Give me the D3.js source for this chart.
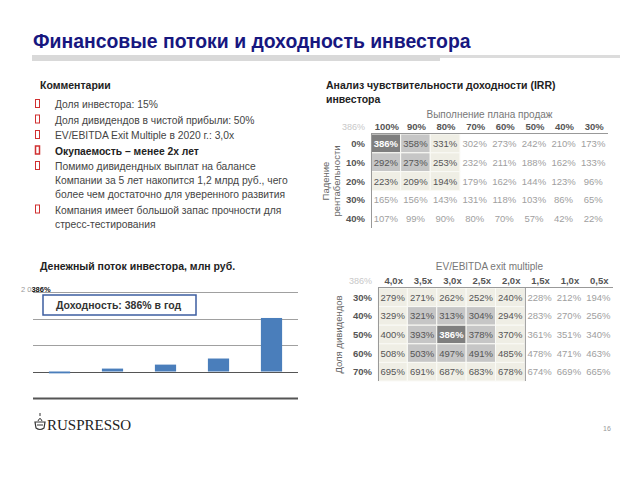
<!DOCTYPE html>
<html><head><meta charset="utf-8">
<script src="https://cdn.jsdelivr.net/npm/d3@7"></script>
<style>
html,body{margin:0;padding:0;background:#fff;}
svg{display:block;font-family:"Liberation Sans",Arial,sans-serif;}
</style></head>
<body>
<svg id="c" width="640" height="480"></svg>
<script>
// ---------- data ----------
const title = "Финансовые потоки и доходность инвестора";
const comments = [
  {lines:["Доля инвестора: 15%"], bold:false},
  {lines:["Доля дивидендов в чистой прибыли: 50%"], bold:false},
  {lines:["EV/EBITDA Exit Multiple в 2020 г.: 3,0x"], bold:false},
  {lines:["Окупаемость – менее 2х лет"], bold:true},
  {lines:["Помимо дивидендных выплат на балансе","Компании за 5 лет накопится 1,2 млрд руб., чего","более чем достаточно для уверенного развития"], bold:false},
  {lines:["Компания имеет большой запас прочности для","стресс-тестирования"], bold:false}
];
const topCols = ["100%","90%","80%","70%","60%","50%","40%","30%"];
const topRows = ["0%","10%","20%","30%","40%"];
const topValues = [
  [386,358,331,302,273,242,210,173],
  [292,273,253,232,211,188,162,133],
  [223,209,194,179,162,144,123,96],
  [165,156,143,131,118,103,86,65],
  [107,99,90,80,70,57,42,22]
];
const botCols = ["4,0x","3,5x","3,0x","2,5x","2,0x","1,5x","1,0x","0,5x"];
const botRows = ["30%","40%","50%","60%","70%"];
const botValues = [
  [279,271,262,252,240,228,212,194],
  [329,321,313,304,294,283,270,256],
  [400,393,386,378,370,361,351,340],
  [508,503,497,491,485,478,471,463],
  [695,691,687,683,678,674,669,665]
];
const periods = ["2016","2017","2018","2019","2020"];
const cashFlow = [-35, 55, 130, 245, 1010];
const cashTicks = [-500, 0, 500, 1000, 1500];
const irrLabel = "Доходность: 386% в год";

// ---------- drawing ----------
const svg = d3.select("#c");

// title
svg.append("text").attr("x",33).attr("y",48).attr("font-size",19.4).attr("font-weight","bold")
  .attr("fill","#17177f").text(title);
svg.append("rect").attr("x",32).attr("y",55).attr("width",408).attr("height",6).attr("fill","#d9d9d9");
svg.append("rect").attr("x",440).attr("y",55).attr("width",180).attr("height",3).attr("fill","#dcdcdc");

// comments
svg.append("text").attr("x",40).attr("y",89).attr("font-size",10.5).attr("font-weight","bold")
  .attr("fill","#222").text("Комментарии");
const lineYs = [[108],[123.5],[139],[154.5],[170,184,198],[213.5,227.5]];
comments.forEach((c,i)=>{
  const y0 = lineYs[i][0];
  svg.append("rect").attr("x",35.5).attr("y",y0-8.5).attr("width",4).attr("height",8)
    .attr("fill","none").attr("stroke","#d03030").attr("stroke-width", c.bold?1.5:1);
  c.lines.forEach((l,j)=>{
    svg.append("text").attr("x",55).attr("y",lineYs[i][j]).attr("font-size",10.3)
      .attr("font-weight",c.bold?"bold":"normal").attr("fill",c.bold?"#222":"#444").text(l);
  });
});

// ---------- sensitivity tables ----------
function drawTable(opt){
  const g = svg.append("g");
  const x = d3.scaleBand().domain(opt.cols).range([opt.x0, opt.x1]);
  const y = d3.scaleBand().domain(opt.rows).range([opt.y0, opt.y1]);
  g.append("text").attr("x",(opt.x0+opt.x1)/2+(opt.titleDx||0)).attr("y",opt.titleY).attr("text-anchor","middle")
    .attr("font-size",10).attr("fill","#777").text(opt.title);
  g.append("text").attr("x",opt.x0-6).attr("y",opt.y0-4).attr("text-anchor","end")
    .attr("font-size",9).attr("fill","#c8c8c8").text("386%");
  g.selectAll(".h").data(opt.cols).join("text")
    .attr("x",d=>x(d)+x.bandwidth()/2+1).attr("y",opt.y0-4).attr("text-anchor","middle")
    .attr("font-size",9.5).attr("font-weight","bold").attr("fill","#555").text(d=>d);
  g.selectAll(".r").data(opt.rows).join("text")
    .attr("x",opt.x0-6).attr("y",d=>y(d)+y.bandwidth()/2+3.5).attr("text-anchor","end")
    .attr("font-size",9.5).attr("font-weight","bold").attr("fill","#555").text(d=>d);
  const cells = [];
  opt.values.forEach((row,i)=>row.forEach((v,j)=>cells.push({i,j,v})));
  g.selectAll(".cell").data(cells.filter(c=>opt.shade(c.i,c.j)>0)).join("rect")
    .attr("x",c=>x(opt.cols[c.j])).attr("y",c=>y(opt.rows[c.i]))
    .attr("width",x.bandwidth()).attr("height",y.bandwidth())
    .attr("fill",c=>["none","#efeee5","#c6c6c6","#7f7f7f"][opt.shade(c.i,c.j)])
    .attr("stroke","#fafaf6").attr("stroke-width",1);
  g.selectAll(".v").data(cells).join("text")
    .attr("x",c=>x(opt.cols[c.j])+x.bandwidth()/2).attr("y",c=>y(opt.rows[c.i])+y.bandwidth()/2+3.5)
    .attr("text-anchor","middle").attr("font-size",9.5)
    .attr("font-weight",c=>opt.shade(c.i,c.j)===3?"bold":"normal")
    .attr("fill",c=>{const s=opt.shade(c.i,c.j);return s===3?"#fff":(s>0?"#555":"#a0a0a0");})
    .text(c=>c.v+"%");
  g.append("line").attr("x1",opt.x0).attr("x2",opt.x1).attr("y1",opt.y0-0.5).attr("y2",opt.y0-0.5)
    .attr("stroke","#999");
  g.append("line").attr("x1",opt.x0+0.5).attr("x2",opt.x0+0.5).attr("y1",opt.y0).attr("y2",opt.y1)
    .attr("stroke","#999");
  if(opt.splitCol!==undefined){
    const xs = x(opt.cols[opt.splitCol])+0.5;
    g.append("line").attr("x1",xs).attr("x2",xs).attr("y1",opt.y0).attr("y2",opt.y1).attr("stroke","#999");
  }
  opt.yLabel.forEach((l,k)=>{
    g.append("text").attr("transform",`translate(${opt.yLabelX + k*11},${(opt.y0+opt.y1)/2}) rotate(-90)`)
      .attr("text-anchor","middle").attr("font-size",9.5).attr("fill","#666").text(l);
  });
}

svg.append("text").attr("x",326).attr("y",89).attr("font-size",10.5).attr("font-weight","bold")
  .attr("fill","#222").text("Анализ чувствительности доходности (IRR)");
svg.append("text").attr("x",326).attr("y",103).attr("font-size",10.5).attr("font-weight","bold")
  .attr("fill","#222").text("инвестора");

drawTable({
  cols: topCols, rows: topRows, values: topValues,
  x0: 371, x1: 608, y0: 134, y1: 228, titleY: 118, titleDx: 0,
  title: "Выполнение плана продаж",
  yLabel: ["Падение","рентабельности"], yLabelX: 329,
  shade: (i,j)=> (i===0&&j===0)?3 : (i<2&&j<2)?2 : (i<3&&j<3)?1 : 0
});
drawTable({
  cols: botCols, rows: botRows, values: botValues,
  x0: 378, x1: 613, y0: 288, y1: 381, titleY: 270, titleDx: -6,
  title: "EV/EBITDA exit multiple",
  yLabel: ["Доля дивидендов"], yLabelX: 342, splitCol: 5,
  shade: (i,j)=> (i===2&&j===2)?3 : (i>=1&&i<=3&&j>=1&&j<=3)?2 : (j<5)?1 : 0
});

// ---------- cash flow chart ----------
svg.append("text").attr("x",40).attr("y",270).attr("font-size",10.5).attr("font-weight","bold")
  .attr("fill","#222").text("Денежный поток инвестора, млн руб.");
const bx = d3.scaleBand().domain(periods).range([33,298]).paddingInner(0.6).paddingOuter(0.3);
const by = d3.scaleLinear().domain([-500,1500]).range([398,292]);
const cg = svg.append("g");
cg.selectAll(".grid").data(cashTicks).join("line")
  .attr("x1",33).attr("x2",298).attr("y1",d=>Math.round(by(d))+0.5).attr("y2",d=>Math.round(by(d))+0.5)
  .attr("stroke",d=>(d===-500||d===0)?"#555":"#a0a0a0")
  .attr("stroke-width",d=>d===-500?2:1);
cg.selectAll(".bar").data(periods).join("rect")
  .attr("x",d=>bx(d)).attr("width",bx.bandwidth())
  .attr("y",(d,i)=>by(Math.max(0,cashFlow[i]))).attr("height",(d,i)=>Math.abs(by(cashFlow[i])-by(0)))
  .attr("fill","#4a7ebb");
// overlapped axis label remnant (one text element)
const rem = cg.append("text").attr("x",21).attr("y",292).attr("font-size",7.5);
rem.append("tspan").attr("fill","#999").text("2 0");
rem.append("tspan").attr("font-weight","bold").attr("fill","#111").text("386%");
// IRR box
cg.append("rect").attr("x",43).attr("y",295).attr("width",153).attr("height",20)
  .attr("fill","#fff").attr("stroke","#3d5da0").attr("stroke-width",1.5);
cg.append("text").attr("x",56).attr("y",309).attr("font-size",10.5).attr("font-weight","bold")
  .attr("fill","#333").text(irrLabel);

// ---------- footer ----------
const lg = svg.append("g").attr("transform","translate(35,424)");
lg.append("path").attr("d","M0,-2 L10,-2 L9,4 Q5,7 1,4 Z").attr("fill","none").attr("stroke","#333").attr("stroke-width",1.2);
lg.append("line").attr("x1",2).attr("x2",8).attr("y1",1).attr("y2",1).attr("stroke","#333");
lg.append("path").attr("d","M3,-3 Q5,-8 7,-3").attr("fill","none").attr("stroke","#333");
lg.append("line").attr("x1",5).attr("x2",5).attr("y1",-8).attr("y2",-11).attr("stroke","#333");
lg.append("text").attr("x",12).attr("y",6).attr("font-family","'Liberation Serif','Times New Roman',serif")
  .attr("font-size",15).attr("fill","#222").text("RUSPRESSO");
svg.append("text").attr("x",603).attr("y",431).attr("font-size",7).attr("fill","#999").text("16");
</script>
</body></html>
